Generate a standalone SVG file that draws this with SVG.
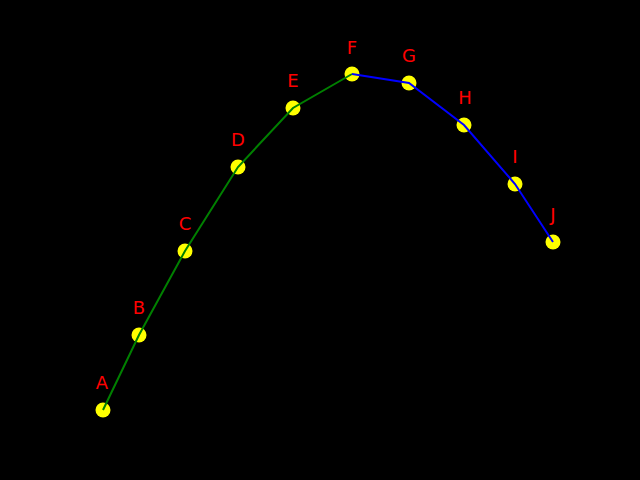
<svg xmlns="http://www.w3.org/2000/svg" width="640" height="480" viewBox="0 0 640 480">
<style>
.pt{fill:#ffff00}
.lbl{fill:#ff0000;font-family:"DejaVu Sans",sans-serif;font-size:18px;text-anchor:middle}
.g{stroke:#008000;stroke-width:2;fill:none}
.b{stroke:#0000ff;stroke-width:2;fill:none}
</style>
<rect width="640" height="480" fill="#000"/>
<g id="A"><circle class="pt" cx="103" cy="410" r="7.5"/><text class="lbl" x="102" y="389">A</text></g>
<g id="B"><circle class="pt" cx="139" cy="335" r="7.5"/><text class="lbl" x="139" y="314">B</text></g>
<g id="C"><circle class="pt" cx="185" cy="251" r="7.5"/><text class="lbl" x="185" y="230">C</text></g>
<g id="D"><circle class="pt" cx="238" cy="167" r="7.5"/><text class="lbl" x="238" y="146">D</text></g>
<g id="E"><circle class="pt" cx="293" cy="108" r="7.5"/><text class="lbl" x="293" y="87">E</text></g>
<g id="F"><circle class="pt" cx="352" cy="74" r="7.5"/><text class="lbl" x="352" y="54">F</text></g>
<g id="G"><circle class="pt" cx="409" cy="83" r="7.5"/><text class="lbl" x="409" y="62">G</text></g>
<g id="H"><circle class="pt" cx="464" cy="125" r="7.5"/><text class="lbl" x="465" y="104">H</text></g>
<g id="I"><circle class="pt" cx="515" cy="184" r="7.5"/><text class="lbl" x="515" y="163">I</text></g>
<g id="J"><circle class="pt" cx="553" cy="242" r="7.5"/><text class="lbl" x="553" y="221">J</text></g>
<g id="connectors">
<polyline class="g" points="103,410 139,335 185,251 238,167 293,108 352,74"/>
<polyline class="b" points="352,74 409,83 464,125 515,184 553,242"/>
</g>
</svg>
